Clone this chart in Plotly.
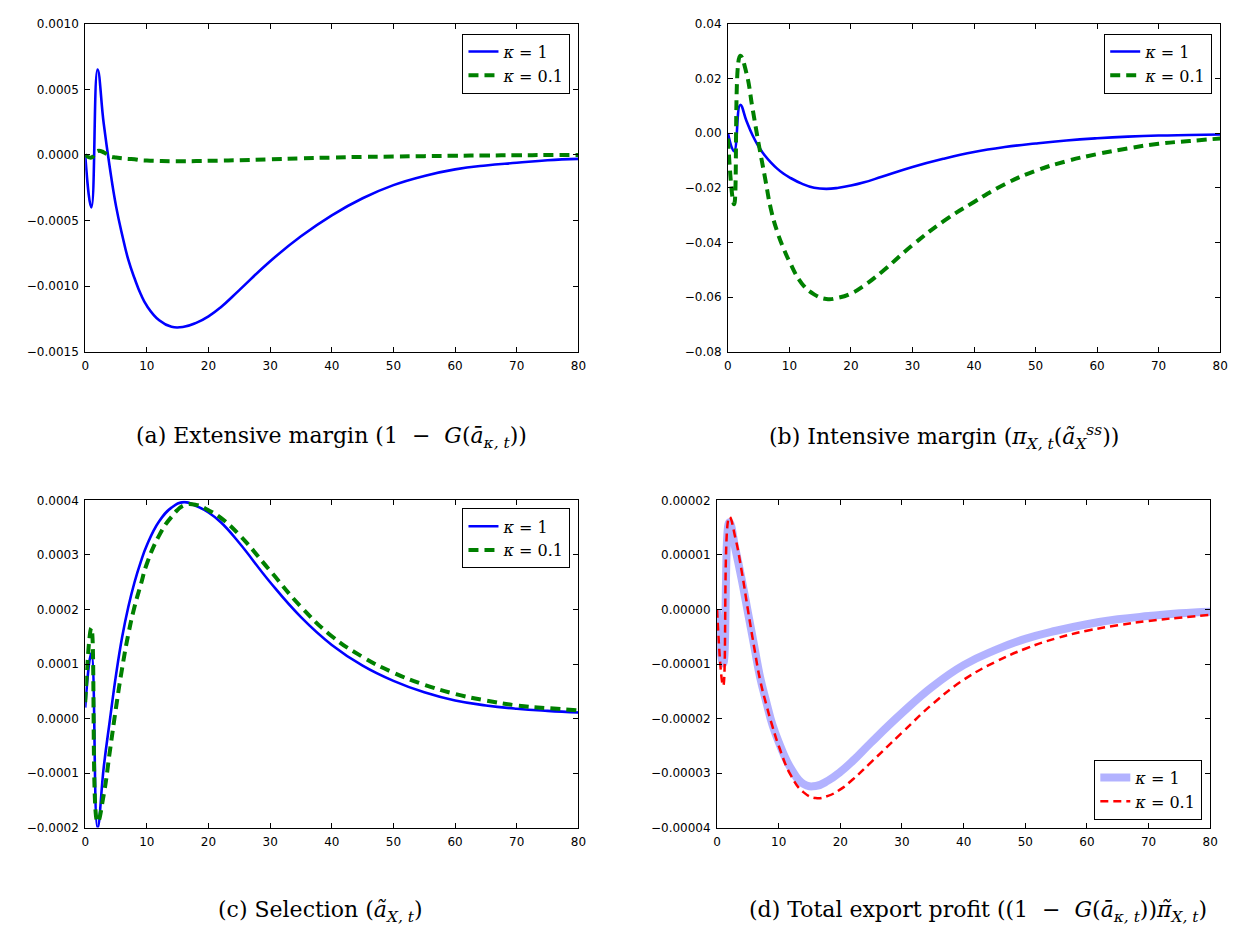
import plotly.graph_objects as go

W, H = 1242, 934

# ---- data ----
t = [0, 1, 2, 3, 4, 5, 6, 7, 8, 9, 10, 12, 14, 16, 18, 20, 22, 25, 30, 35, 40, 45, 50, 55, 60, 65, 70, 75, 80]

ext_k1 = [0, -0.00040, 0.00065, 0.00024, -0.00010, -0.00039, -0.00061, -0.00080, -0.00094, -0.00106, -0.00115,
          -0.00126, -0.00131, -0.00131, -0.00128, -0.00123, -0.00116, -0.00103, -0.00081, -0.00062, -0.00046,
          -0.00033, -0.00023, -0.00016, -0.00011, -0.00008, -0.00006, -0.00004, -0.00003]
ext_k01 = [0, -0.00002, 0.00003, 0.00002, -0.00001, -0.00002, -0.000025, -0.00003, -0.000033, -0.00004, -0.000043,
           -0.000046, -0.000048, -0.000048, -0.000047, -0.000045, -0.000043, -0.00004, -0.000033, -0.000026, -0.00002,
           -0.000015, -0.000012, -0.000009, -0.000006, -0.000004, -0.000002, -0.000001, 0.0]

int_k1 = [0, -0.0066, 0.0103, 0.0045, -0.0008, -0.0050, -0.0082, -0.0108, -0.0130, -0.0148, -0.0162,
          -0.0185, -0.0200, -0.0204, -0.0200, -0.0192, -0.0181, -0.0160, -0.0124, -0.0094, -0.0069,
          -0.0051, -0.0038, -0.0027, -0.0019, -0.0013, -0.0009, -0.0007, -0.0005]
int_k01 = [-0.002, -0.026, 0.0283, 0.022, 0.009, -0.004, -0.016, -0.028, -0.036, -0.042, -0.047,
           -0.055, -0.059, -0.0607, -0.0602, -0.0587, -0.0560, -0.0508, -0.0410, -0.0323, -0.0252,
           -0.0187, -0.0138, -0.0103, -0.0077, -0.0056, -0.0039, -0.0029, -0.002]

sel_k1 = [0.00002, 0.00012, -0.00020, -0.00009, -0.000003, 0.00008, 0.00015, 0.000205, 0.000250, 0.000287, 0.000318,
          0.000362, 0.000387, 0.000397, 0.00039, 0.000378, 0.000360, 0.000322, 0.000250, 0.000186, 0.000135,
          0.000097, 0.000069, 0.000048, 0.000033, 0.000024, 0.000018, 0.000014, 0.000011]
sel_k01 = [0.00003, 0.000166, -0.00019, -0.00014, -0.00006, 0.00002, 0.000093, 0.000155, 0.000205, 0.000245, 0.000284,
           0.000336, 0.00037, 0.000391, 0.000392, 0.000382, 0.000368, 0.000337, 0.000271, 0.000205, 0.000151,
           0.000113, 0.000084, 0.000062, 0.000045, 0.000033, 0.000024, 0.000019, 0.000015]

tot_k1 = [0, -0.0000099, 0.000016, 0.000011, 0.0000055, -0.0000005, -0.0000065, -0.0000125, -0.000017, -0.0000212,
          -0.0000243, -0.0000292, -0.0000320, -0.0000324, -0.0000314, -0.0000298, -0.0000278, -0.0000244, -0.000019,
          -0.0000141, -0.0000102, -0.0000075, -0.0000054, -0.0000039, -0.0000027, -0.0000018, -0.0000012,
          -0.0000007, -0.0000004]
tot_k01 = [0, -0.000014, 0.000017, 0.000013, 0.000007, 0.0, -0.0000068, -0.000013, -0.0000175, -0.0000215,
           -0.000025, -0.0000305, -0.0000335, -0.0000346, -0.0000342, -0.000033, -0.0000312, -0.000028, -0.0000226,
           -0.0000173, -0.0000129, -0.0000097, -0.0000072, -0.0000053, -0.0000039, -0.0000029, -0.0000021,
           -0.0000015, -0.000001]

x_ticks = [0, 10, 20, 30, 40, 50, 60, 70, 80]
y_ticks_a = [0.0010, 0.0005, 0.0, -0.0005, -0.0010, -0.0015]
y_ticks_b = [0.04, 0.02, 0.0, -0.02, -0.04, -0.06, -0.08]
y_ticks_c = [0.0004, 0.0003, 0.0002, 0.0001, 0.0, -0.0001, -0.0002]
y_ticks_d = [0.00002, 0.00001, 0.0, -0.00001, -0.00002, -0.00003, -0.00004]

label_k1 = "<i>κ</i> = 1"
label_k01 = "<i>κ</i> = 0.1"

captions = [
    "(a) Extensive margin (1 &nbsp;−&nbsp; <i>G</i>(<i>ā</i><sub><i>κ, t</i></sub>))",
    "(b) Intensive margin (<i>π</i><sub><i>X, t</i></sub>(<i>ã</i><sub><i>X</i></sub><sup><i>ss</i></sup>))",
    "(c) Selection (<i>ã</i><sub><i>X, t</i></sub>)",
    "(d) Total export profit ((1 &nbsp;−&nbsp; <i>G</i>(<i>ā</i><sub><i>κ, t</i></sub>))<i>π̃</i><sub><i>X, t</i></sub>)",
]

# ---- layout geometry (pixels) ----
boxes = {
    1: (82, 580, 17, 350),
    2: (731, 1228, 17, 350),
    3: (82, 580, 501, 833),
    4: (720, 1218, 501, 833),
}

def px(x):
    return x / W

def py(y):
    return 1 - y / H

fig = go.Figure()

BLUE = "#0000ff"
GREEN = "#008000"

spl = dict(shape="spline", smoothing=1.3)

def add(idx, y, name, line, legend):
    fig.add_trace(go.Scatter(
        x=t, y=y, mode="lines", name=name,
        line=dict(**line, **spl),
        xaxis="x" if idx == 1 else f"x{idx}",
        yaxis="y" if idx == 1 else f"y{idx}",
        legend=legend,
    ))

add(1, ext_k1, label_k1, dict(color=BLUE, width=2.6), "legend")
add(1, ext_k01, label_k01, dict(color=GREEN, width=4, dash="10px,6px"), "legend")
add(2, int_k1, label_k1, dict(color=BLUE, width=2.6), "legend2")
add(2, int_k01, label_k01, dict(color=GREEN, width=4, dash="10px,6px"), "legend2")
add(3, sel_k1, label_k1, dict(color=BLUE, width=2.6), "legend3")
add(3, sel_k01, label_k01, dict(color=GREEN, width=4, dash="10px,6px"), "legend3")
add(4, tot_k1, label_k1, dict(color="rgba(0,0,255,0.3)", width=8), "legend4")
add(4, tot_k01, label_k01, dict(color="#ff0000", width=2.5, dash="8px,5px"), "legend4")

tickfont = dict(family="DejaVu Sans", size=12, color="black")
yt = {1: (y_ticks_a, ".4f", [-0.0015, 0.0010]),
      2: (y_ticks_b, ".2f", [-0.08, 0.04]),
      3: (y_ticks_c, ".4f", [-0.0002, 0.0004]),
      4: (y_ticks_d, ".5f", [-0.00004, 0.00002])}

layout = dict(
    width=W, height=H, margin=dict(l=0, r=0, t=0, b=0),
    paper_bgcolor="white", plot_bgcolor="white",
    showlegend=True,
)
for i, (x0, x1, y0, y1) in boxes.items():
    xs = "xaxis" if i == 1 else f"xaxis{i}"
    ys = "yaxis" if i == 1 else f"yaxis{i}"
    xa = "x" if i == 1 else f"x{i}"
    ya = "y" if i == 1 else f"y{i}"
    common = dict(showline=True, linecolor="black", linewidth=1, mirror="ticks",
                  ticks="inside", ticklen=5, tickwidth=1, tickcolor="black",
                  showgrid=False, zeroline=False, tickfont=tickfont)
    layout[xs] = dict(domain=[px(x0), px(x1)], anchor=ya, range=[0, 80],
                      tickvals=x_ticks, ticktext=[str(v) for v in x_ticks],
                      ticklabelstandoff=3, **common)
    vals, fmt, rng = yt[i]
    layout[ys] = dict(domain=[py(y1), py(y0)], anchor=xa, range=rng,
                      tickvals=vals, tickformat=fmt, ticklabelstandoff=3, **common)

legfont = dict(family="DejaVu Serif", size=16, color="black")
legbase = dict(bgcolor="white", bordercolor="black", borderwidth=1, font=legfont,
               tracegroupgap=0, itemwidth=30)
layout["legend"] = dict(x=px(572), y=py(27), xanchor="right", yanchor="top", **legbase)
layout["legend2"] = dict(x=px(1220), y=py(27), xanchor="right", yanchor="top", **legbase)
layout["legend3"] = dict(x=px(572), y=py(509), xanchor="right", yanchor="top", **legbase)
layout["legend4"] = dict(x=px(1210), y=py(825), xanchor="right", yanchor="bottom", **legbase)

cap_pos = [(331, 437), (949, 437), (319, 918), (984, 918)]
annotations = []
for txt, (cx, cy) in zip(captions, cap_pos):
    annotations.append(dict(text=txt, x=px(cx), y=py(cy), xref="paper", yref="paper",
                            xanchor="center", yanchor="middle", showarrow=False,
                            font=dict(family="DejaVu Serif", size=22, color="black")))
layout["annotations"] = annotations

fig.update_layout(**layout)
fig.write_html("out.html")
